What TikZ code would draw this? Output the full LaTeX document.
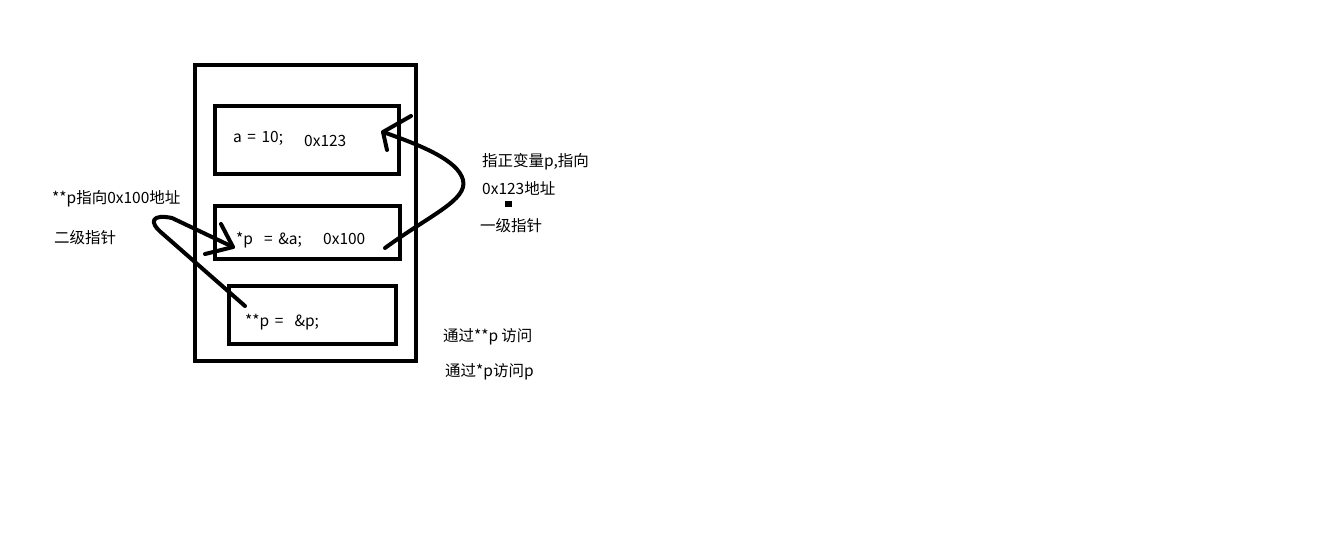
\documentclass[tikz,border=0pt]{standalone}
\usepackage{fontspec}
\setmainfont{Noto Sans CJK SC}[WordSpace={1.6}]
\begin{document}
\begin{tikzpicture}[x=1pt,y=-1pt,
  box/.style={draw=black,line width=4.5pt,inner sep=0pt},
  stroke/.style={draw=black,line width=4pt,line cap=round,line join=round},
  lbl/.style={anchor=west,inner sep=0pt,font=\fontsize{15.5}{18}\selectfont},
]
\useasboundingbox[fill=white] (0,0) rectangle (1332,539);
% boxes
\draw[box] (195,65) rectangle (416,361);
\draw[box] (215,106) rectangle (399,174);
\draw[box] (215,206) rectangle (400,259);
\draw[box] (229,286) rectangle (396,344);
% texts in boxes
\node[lbl] (ta) at (233,138) {a = 10;};
\node[lbl] (tb) at (304,141) {0x123};
\node[lbl] (tc) at (236,240) {*p\ \ = \&a;};
\node[lbl] (td) at (323,239) {0x100};
\node[lbl] (te) at (245,322) {**p =\ \ \&p;};
% side texts
\node[lbl] (l1) at (52,199) {**p指向0x100地址};
\node[lbl] (l2) at (54,238) {二级指针};
\node[lbl] (r1) at (482,162) {指正变量p,指向};
\node[lbl] (r2) at (482,188) {0x123地址};
\node[lbl] (r3) at (480,226) {一级指针};
\node[lbl] (r4) at (443,337) {通过**p\hspace{3pt}访问};
\node[lbl] (r5) at (445,372) {通过*p访问p};
\fill[black] (505,201) rectangle (512,207);
% curve 1 : from 0x100 to box 1
\coordinate (s1) at (385,248);
\coordinate (t1) at (383,132);
\coordinate (b1a) at (411,116);
\coordinate (b1b) at (387,150);
\draw[stroke] (s1) .. controls (430,215) and (468,200) .. (463,180)
  .. controls (458,160) and (420,145) .. (t1);
\draw[stroke] (b1a) -- (t1) -- (b1b);
% curve 2 : from **p to *p
\coordinate (s2) at (245,306);
\coordinate (t2) at (233,247);
\coordinate (b2a) at (221,224);
\coordinate (b2b) at (205,254);
\draw[stroke] (s2) -- (163,234) .. controls (147,221) and (153,214) .. (172,218) -- (t2);
\draw[stroke] (b2a) -- (t2) -- (b2b);
\end{tikzpicture}
\end{document}
